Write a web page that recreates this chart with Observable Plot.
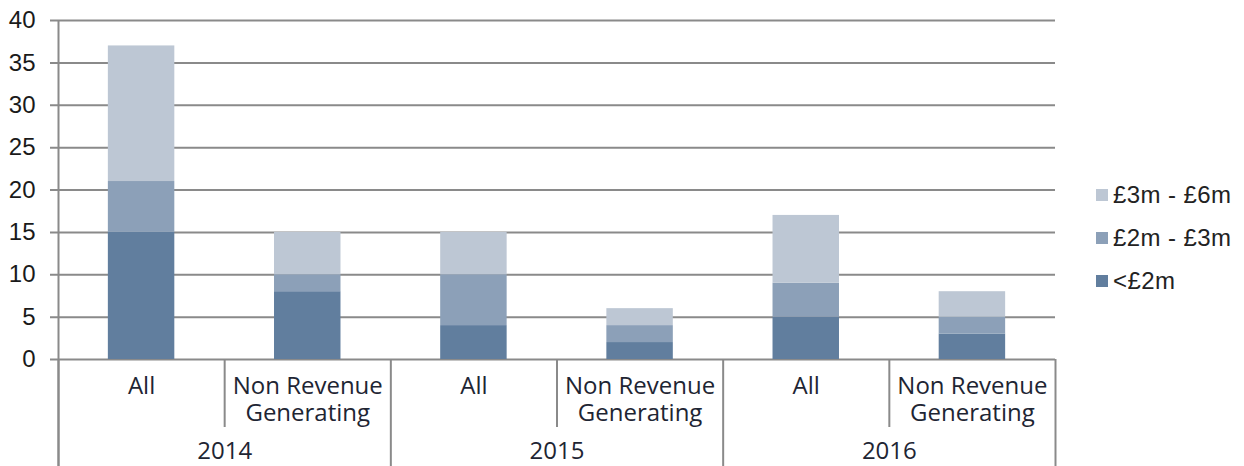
<!DOCTYPE html>
<html><head><meta charset="utf-8">
<script src="https://cdn.jsdelivr.net/npm/d3@7"></script>
<script src="https://cdn.jsdelivr.net/npm/@observablehq/plot@0.6"></script>
<style>
body{margin:0;background:#fff;}
#wrap{position:relative;width:1244px;height:466px;}
#legend{position:absolute;left:1096px;top:173px;font-family:"Liberation Sans",Arial,sans-serif;font-size:24px;letter-spacing:0.4px;color:#222;}
.row{display:flex;align-items:center;height:43px;line-height:1;white-space:nowrap;}
.sw{width:12px;height:12px;margin-right:5px;flex:none;}
</style></head><body><div id="wrap"><div id="legend"></div></div>
<script>
const years = ["2014", "2015", "2016"];
const categories = ["All", "Non Revenue\nGenerating"];
const seriesNames = ["<£2m", "£2m - £3m", "£3m - £6m"];
const under2m   = [15, 8, 4, 2, 5, 3];
const from2to3m = [6, 2, 6, 2, 4, 2];
const from3to6m = [16, 5, 5, 2, 8, 3];
const yTicks = [0, 5, 10, 15, 20, 25, 30, 35, 40];
const colors = ["#617e9e", "#8ca0b8", "#bdc7d4"];

const seriesValues = [under2m, from2to3m, from3to6m];
const slots = [];
years.forEach((y, yi) => categories.forEach((c, ci) => slots.push({i: yi * categories.length + ci, year: y, category: c})));
const rows = [];
seriesNames.forEach((s, si) => slots.forEach((slot, k) => rows.push({i: slot.i, series: s, value: seriesValues[si][k]})));
const nSlots = slots.length;
const yearCenters = years.map((y, yi) => ({year: y, x: yi * categories.length + categories.length / 2}));
const longSeps = d3.range(0, nSlots + 1, categories.length);
const shortSeps = d3.range(0, nSlots + 1).filter(v => v % categories.length !== 0);

const gray = "#8a8a8a";
const labelFont = "'Open Sans', 'Noto Sans', sans-serif";

const chart = Plot.plot({
  width: 1244,
  height: 466,
  marginLeft: 58,
  marginRight: 189,
  marginTop: 20,
  marginBottom: 107,
  style: {background: "#fff", overflow: "visible"},
  x: {domain: [0, nSlots], axis: null},
  y: {domain: [0, 40], axis: null},
  color: {domain: seriesNames, range: colors},
  marks: [
    Plot.ruleY(yTicks, {stroke: gray, strokeWidth: 2, insetLeft: -8}),
    Plot.rectY(rows, {x1: d => d.i + 0.3, x2: d => d.i + 0.7, y: "value", fill: "series"}),
    Plot.ruleX([0], {x: d => d, y1: () => 40, y2: () => 0, insetBottom: -107, stroke: gray, strokeWidth: 2}),
    Plot.ruleX(longSeps, {x: d => d, y1: () => 0, y2: () => 0, insetBottom: -107, stroke: gray, strokeWidth: 2}),
    Plot.ruleX(shortSeps, {x: d => d, y1: () => 0, y2: () => 0, insetBottom: -68, stroke: gray, strokeWidth: 2}),
    Plot.text(yTicks, {x: () => 0, y: d => d, text: d => String(d), textAnchor: "end", dx: -23, fontSize: 24, fontFamily: "'Liberation Sans', Arial, sans-serif", fill: "#1a1a1a"}),
    Plot.text(slots, {x: d => d.i + 0.5, y: () => 0, text: "category", lineAnchor: "top", dy: 15, lineHeight: 1.125, fontSize: 24, fontFamily: labelFont, fill: "#1e2533"}),
    Plot.text(yearCenters, {x: "x", y: () => 0, text: "year", lineAnchor: "top", dy: 82, fontSize: 24, fontFamily: labelFont, fill: "#1e2533"})
  ]
});
document.getElementById("wrap").prepend(chart);

const legend = document.getElementById("legend");
seriesNames.slice().reverse().forEach(s => {
  const row = document.createElement("div");
  row.className = "row";
  const sw = document.createElement("span");
  sw.className = "sw";
  sw.style.background = colors[seriesNames.indexOf(s)];
  const t = document.createElement("span");
  t.textContent = s;
  row.append(sw, t);
  legend.append(row);
});
</script>
</body></html>
